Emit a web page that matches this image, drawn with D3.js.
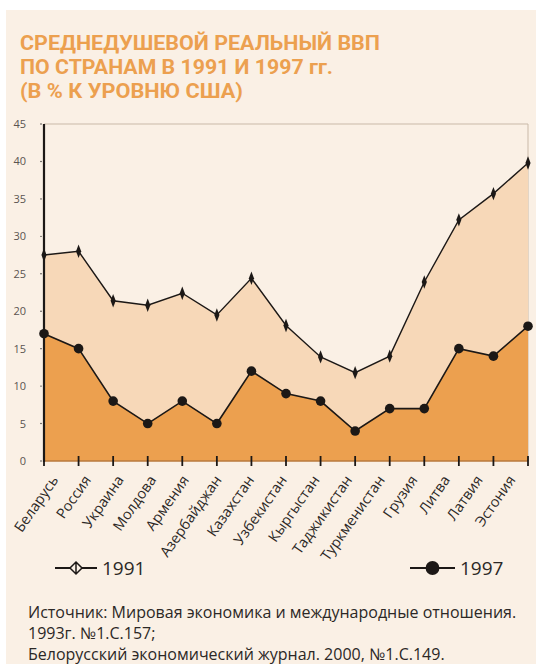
<!DOCTYPE html>
<html>
<head>
<meta charset="utf-8">
<script src="https://cdn.jsdelivr.net/npm/d3@7"></script>
<style>
  html, body { margin: 0; padding: 0; background: #fff; }
  svg { display: block; }
</style>
</head>
<body>
<svg id="chart" width="536" height="664"></svg>
<script>
const categories = ['Беларусь', 'Россия', 'Украина', 'Молдова', 'Армения', 'Азербайджан', 'Казахстан',
  'Узбекистан', 'Кыргыстан', 'Таджикистан', 'Туркменистан', 'Грузия', 'Литва', 'Латвия', 'Эстония']
const gdp1991 = [27.5, 28, 21.4, 20.8, 22.4, 19.5, 24.4, 18.1, 13.9, 11.8, 14, 23.9, 32.2, 35.7, 39.8]
const gdp1997 = [17, 15, 8, 5, 8, 5, 12, 9, 8, 4, 7, 7, 15, 14, 18]
const yTicks = [0, 5, 10, 15, 20, 25, 30, 35, 40, 45]
const titleLines = ['СРЕДНЕДУШЕВОЙ РЕАЛЬНЫЙ ВВП', 'ПО СТРАНАМ В 1991 И 1997 гг.', '(В % К УРОВНЮ США)']
const sourceLines = [
  'Источник: Мировая экономика и международные отношения.',
  '1993г. №1.С.157;',
  'Белорусский экономический журнал. 2000, №1.С.149.'
]

const ORANGE = '#eca04f'
const PEACH = '#f7d8b8'
const BG = '#faf0e5'
const font = '"Open Sans", "DejaVu Sans", sans-serif'

const svg = d3.select('#chart')

// page panel
svg.append('rect').attr('x', 6).attr('y', 10).attr('width', 530).attr('height', 654).attr('fill', BG)

// title
const titleW = [360, 313, 223]
svg.append('g').selectAll('text')
  .data(titleLines)
  .join('text')
  .attr('x', 20)
  .attr('y', (_, i) => 50 + i * 24)
  .attr('fill', ORANGE)
  .attr('font-family', 'Roboto, sans-serif')
  .attr('font-weight', 'bold')
  .attr('font-size', 19.5)
  .attr('textLength', (_, i) => titleW[i])
  .attr('lengthAdjust', 'spacingAndGlyphs')
  .text((d) => d)

// scales
const x = d3.scalePoint().domain(categories).range([44, 528])
const xLabel = d3.scalePoint().domain(categories).range([59, 516])
const y = d3.scaleLinear().domain([0, 45]).range([461, 124])

// plot frame (top + right)
svg.append('path')
  .attr('d', `M44,${y(45)}H528V${y(0)}`)
  .attr('fill', 'none')
  .attr('stroke', '#c9b9a8')
  .attr('stroke-width', 1)

const area = (vals) => d3.area()
  .x((_, i) => x(categories[i]))
  .y0(y(0))
  .y1((d) => y(d))(vals)
const line = (vals) => d3.line()
  .x((_, i) => x(categories[i]))
  .y((d) => y(d))(vals)

svg.append('path').attr('d', area(gdp1991)).attr('fill', PEACH)
svg.append('path').attr('d', area(gdp1997)).attr('fill', ORANGE)

// bottom axis line
svg.append('line')
  .attr('x1', 44).attr('x2', 528).attr('y1', y(0)).attr('y2', y(0))
  .attr('stroke', '#b97a3c').attr('stroke-width', 1.5)

svg.append('path').attr('d', line(gdp1991)).attr('fill', 'none')
  .attr('stroke', '#1c1816').attr('stroke-width', 1.4)
svg.append('path').attr('d', line(gdp1997)).attr('fill', 'none')
  .attr('stroke', '#1c1816').attr('stroke-width', 1.6)

// markers
svg.append('g').selectAll('path')
  .data(gdp1991)
  .join('path')
  .attr('transform', (d, i) => `translate(${x(categories[i])},${y(d)}) scale(0.8,1.2)`)
  .attr('d', d3.symbol(d3.symbolDiamond, 36))
  .attr('fill', '#1c1816')

svg.append('g').selectAll('circle')
  .data(gdp1997)
  .join('circle')
  .attr('cx', (_, i) => x(categories[i]))
  .attr('cy', (d) => y(d))
  .attr('r', 4.8)
  .attr('fill', '#1c1816')

// y axis
svg.append('line')
  .attr('x1', 44).attr('x2', 44).attr('y1', y(45)).attr('y2', y(0) + 1)
  .attr('stroke', '#1c1816').attr('stroke-width', 2.2)

const yAxis = svg.append('g')
yAxis.selectAll('circle')
  .data(yTicks)
  .join('circle')
  .attr('cx', 41).attr('cy', (d) => y(d)).attr('r', 0.7).attr('fill', '#222')
yAxis.selectAll('text')
  .data(yTicks)
  .join('text')
  .attr('x', 26)
  .attr('y', (d) => y(d) + 4)
  .attr('text-anchor', 'end')
  .attr('fill', '#5a5450')
  .attr('font-family', font)
  .attr('font-size', 11)
  .text((d) => d)

// x ticks
svg.append('g').selectAll('line')
  .data(categories)
  .join('line')
  .attr('x1', (d) => x(d)).attr('x2', (d) => x(d))
  .attr('y1', 456).attr('y2', 466)
  .attr('stroke', '#1c1816').attr('stroke-width', 1.8)

// x labels
svg.append('g').selectAll('text')
  .data(categories)
  .join('text')
  .attr('transform', (d) => `translate(${xLabel(d)},${480}) rotate(-55)`)
  .attr('text-anchor', 'end')
  .attr('fill', '#2c2826')
  .attr('font-family', font)
  .attr('font-size', 14.5)
  .text((d) => d)

// legend
const legend = [
  { label: '1991', x0: 55, x1: 97, tx: 102 },
  { label: '1997', x0: 410, x1: 455, tx: 460 }
]
const lg = svg.append('g')
legend.forEach((l, i) => {
  const cx = (l.x0 + l.x1) / 2
  lg.append('line').attr('x1', l.x0).attr('x2', l.x1).attr('y1', 568).attr('y2', 568)
    .attr('stroke', '#1c1816').attr('stroke-width', 2)
  if (i === 0) {
    lg.append('path')
      .attr('d', `M${cx},562L${cx + 6},568L${cx},574L${cx - 6},568Z M${cx},562V574`)
      .attr('fill', BG).attr('stroke', '#1c1816').attr('stroke-width', 1.5)
  } else {
    lg.append('path')
      .attr('transform', `translate(${cx},568)`)
      .attr('d', d3.symbol(d3.symbolCircle, 150))
      .attr('fill', '#1c1816')
  }
  lg.append('text').attr('x', l.tx).attr('y', 575)
    .attr('fill', '#2c2826').attr('font-family', font).attr('font-size', 19)
    .text(l.label)
})

// source
svg.append('g').selectAll('text')
  .data(sourceLines)
  .join('text')
  .attr('x', 28)
  .attr('y', (_, i) => 618 + i * 21)
  .attr('fill', '#2c2826')
  .attr('font-family', font)
  .attr('font-size', 16)
  .text((d) => d)
</script>
</body>
</html>
